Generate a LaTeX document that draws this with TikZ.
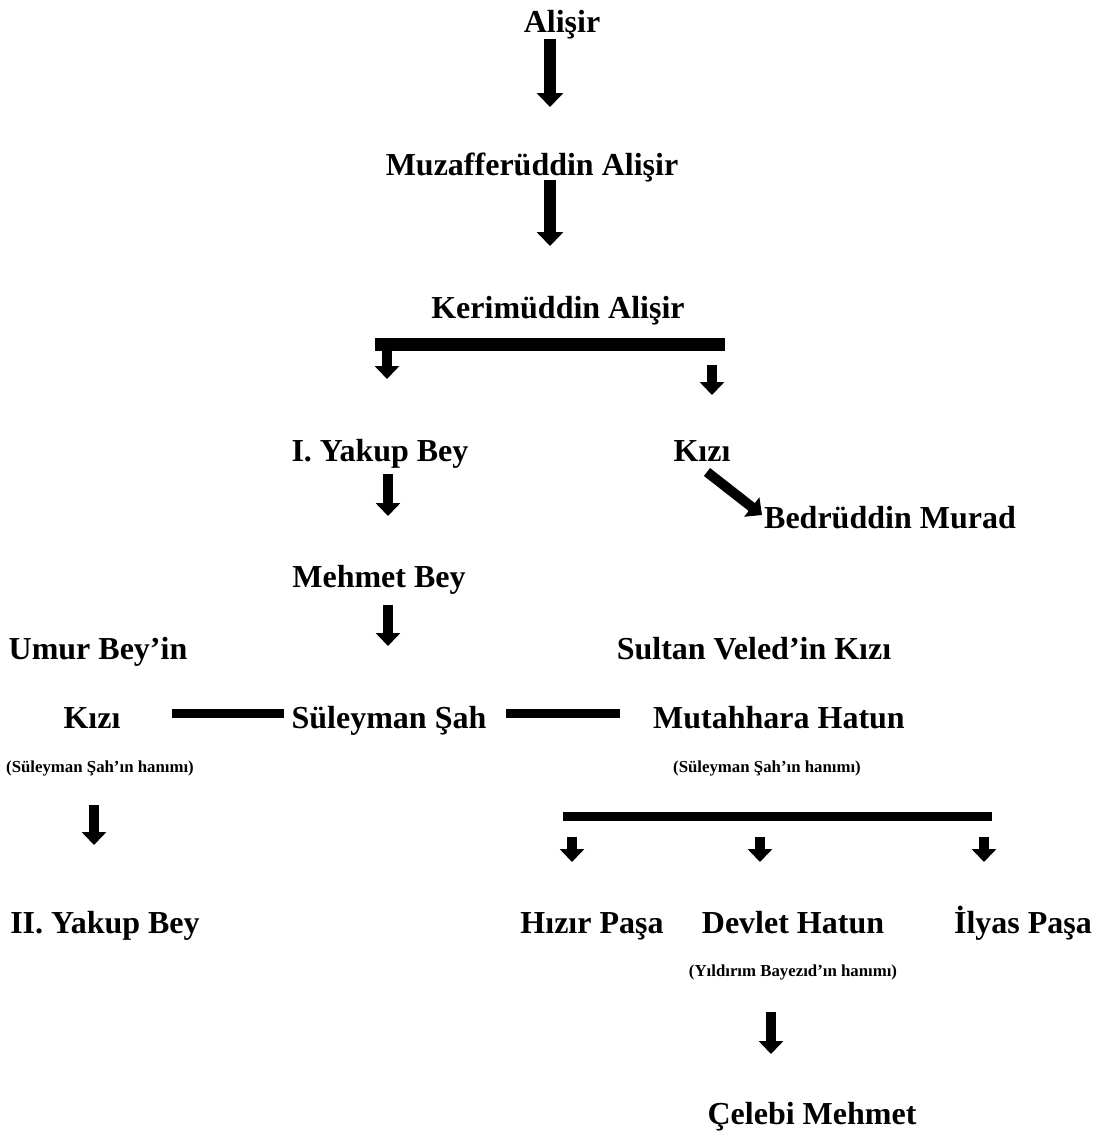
\documentclass[tikz,border=0pt]{standalone}
\usepackage{fontspec}
\setmainfont{Liberation Serif}
\usetikzlibrary{arrows.meta}

\begin{document}
\begin{tikzpicture}[x=0.5pt, y=-0.5pt,
    person/.style={font=\bfseries\fontsize{16}{19}\selectfont, inner sep=0pt, anchor=base},
    note/.style={font=\bfseries\fontsize{8.4}{10}\selectfont, inner sep=0pt, anchor=base},
    arrow/.style={-{Triangle[width=12pt, length=6.5pt]}, line width=5pt},
    bigarrow/.style={-{Triangle[width=13pt, length=7pt]}, line width=6pt},
    bar/.style={line width=4.5pt},
    wide bar/.style={line width=6.5pt}
]
\useasboundingbox (0,0) rectangle (1102,1142);

\node[person] (alisir)    at (562,32)   {Alişir};
\node[person] (muzaffer)  at (532,175)  {Muzafferüddin Alişir};
\node[person] (kerim)     at (558,318)  {Kerimüddin Alişir};
\node[person] (yakup)     at (380,461)  {I. Yakup Bey};
\node[person] (kizi)      at (702,461)  {Kızı};
\node[person] (bedruddin) at (890,528)  {Bedrüddin Murad};
\node[person] (mehmet)    at (379,587)  {Mehmet Bey};
\node[person] (umur)      at (98,659)   {Umur Bey’in};
\node[person] (sultan)    at (754,659)  {Sultan Veled’in Kızı};
\node[person] (umurkizi)  at (92,728)   {Kızı};
\node[person] (suleyman)  at (389,728)  {Süleyman Şah};
\node[person] (mutahhara) at (779,728)  {Mutahhara Hatun};
\node[note]   (hanimA)    at (100,772)  {(Süleyman Şah’ın hanımı)};
\node[note]   (hanimB)    at (767,772)  {(Süleyman Şah’ın hanımı)};
\node[person] (yakupII)   at (105,933)  {II. Yakup Bey};
\node[person] (hizir)     at (592,933)  {Hızır Paşa};
\node[person] (devlet)    at (793,933)  {Devlet Hatun};
\node[person] (ilyas)     at (1023,933) {İlyas Paşa};
\node[note]   (hanimC)    at (793,976)  {(Yıldırım Bayezıd’ın hanımı)};
\node[person] (celebi)    at (812,1124) {Çelebi Mehmet};

\coordinate (a1) at (550,39);   \coordinate (b1) at (550,107);
\coordinate (a2) at (550,180);  \coordinate (b2) at (550,246);
\coordinate (k1) at (375,344);  \coordinate (k2) at (725,344);
\coordinate (a3) at (387,344);  \coordinate (b3) at (387,379);
\coordinate (a4) at (712,365);  \coordinate (b4) at (712,395);
\coordinate (a5) at (707,472);  \coordinate (b5) at (762,515);
\coordinate (a6) at (388,474);  \coordinate (b6) at (388,516);
\coordinate (a7) at (388,605);  \coordinate (b7) at (388,646);
\coordinate (s1) at (172,713);  \coordinate (s2) at (284,713);
\coordinate (s3) at (506,713);  \coordinate (s4) at (620,713);
\coordinate (a8) at (94,805);   \coordinate (b8) at (94,845);
\coordinate (m1) at (563,816);  \coordinate (m2) at (992,816);
\coordinate (a9) at (572,837);  \coordinate (b9) at (572,862);
\coordinate (a10) at (760,837); \coordinate (b10) at (760,862);
\coordinate (a11) at (984,837); \coordinate (b11) at (984,862);
\coordinate (a12) at (771,1012); \coordinate (b12) at (771,1054);

\draw[bigarrow] (a1) -- (b1);
\draw[bigarrow] (a2) -- (b2);
\draw[wide bar] (k1) -- (k2);
\draw[arrow] (a3) -- (b3);
\draw[arrow] (a4) -- (b4);
\draw[arrow] (a5) -- (b5);
\draw[arrow] (a6) -- (b6);
\draw[arrow] (a7) -- (b7);
\draw[bar] (s1) -- (s2);
\draw[bar] (s3) -- (s4);
\draw[arrow] (a8) -- (b8);
\draw[bar] (m1) -- (m2);
\draw[arrow] (a9) -- (b9);
\draw[arrow] (a10) -- (b10);
\draw[arrow] (a11) -- (b11);
\draw[arrow] (a12) -- (b12);
\end{tikzpicture}
\end{document}
